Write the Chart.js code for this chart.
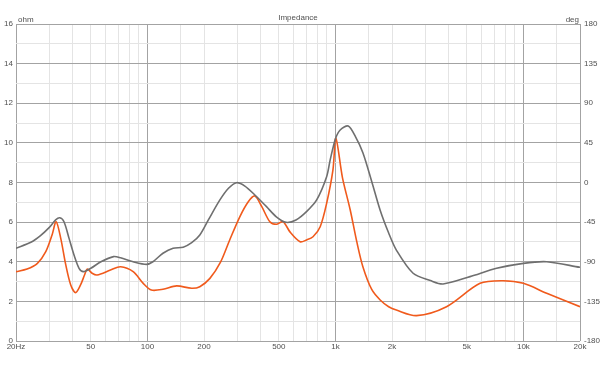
<!DOCTYPE html>
<html>
<head>
<meta charset="utf-8">
<script src="https://cdn.jsdelivr.net/npm/chart.js@4.4.1/dist/chart.umd.min.js"></script>
<style>
  html, body { margin: 0; background: #fff; }
  #wrap { width: 600px; height: 375px; }
</style>
</head>
<body>
<div id="wrap"><canvas id="impedance-chart"></canvas></div>
<script>
(function () {
    "use strict";

    // grey trace
    const grayFreq = [20, 24, 27, 30, 32.5, 34.2, 36, 38.3, 40.7, 43.3, 45.6, 50, 56.6, 66, 72, 84, 99, 107, 121, 137, 155, 172, 190, 211, 243, 270, 298, 330, 373, 430, 485, 546, 617, 702, 795, 898, 938, 1000, 1060, 1170, 1280, 1400, 1560, 1730, 1920, 2110, 2590, 3200, 3740, 5200, 7200, 10000, 13300, 20000];
    const grayOhm = [4.68, 4.98, 5.32, 5.72, 6.11, 6.22, 6.02, 5.18, 4.34, 3.67, 3.5, 3.67, 4.0, 4.26, 4.2, 4.0, 3.87, 4.0, 4.43, 4.68, 4.73, 4.96, 5.35, 6.11, 7.12, 7.71, 7.99, 7.82, 7.37, 6.78, 6.27, 5.99, 6.11, 6.53, 7.12, 8.29, 9.14, 10.2, 10.65, 10.85, 10.3, 9.5, 8.05, 6.6, 5.45, 4.59, 3.42, 3.05, 2.88, 3.25, 3.67, 3.92, 4.0, 3.72];

    // orange trace
    const orangeFreq = [20, 22.9, 26, 28.8, 31.1, 32.7, 34.6, 36.8, 39.1, 41.5, 44.1, 46.3, 47.9, 50.8, 54, 63.6, 72, 84, 95, 105, 121, 143, 172, 190, 215, 244, 274, 310, 344, 373, 406, 448, 485, 527, 572, 649, 702, 760, 830, 898, 970, 1006, 1090, 1200, 1300, 1400, 1560, 1730, 1920, 2110, 2700, 3900, 5880, 7800, 10000, 13300, 20000];
    const orangeOhm = [3.5, 3.63, 3.92, 4.51, 5.35, 6.02, 5.18, 3.84, 2.83, 2.44, 2.83, 3.33, 3.63, 3.42, 3.33, 3.58, 3.75, 3.5, 2.91, 2.57, 2.61, 2.78, 2.66, 2.74, 3.16, 3.95, 5.1, 6.27, 7.03, 7.32, 6.78, 6.02, 5.89, 6.02, 5.52, 5.01, 5.1, 5.26, 5.77, 6.95, 8.63, 10.23, 8.25, 6.6, 5.0, 3.75, 2.6, 2.07, 1.73, 1.56, 1.28, 1.73, 2.91, 3.04, 2.91, 2.41, 1.73];

    // x grid lines and the ones that get a label
    const freqGrid = [20, 30, 40, 50, 60, 70, 80, 90, 100, 150, 200, 300, 400, 500, 600, 700, 800, 900, 1000, 1500, 2000, 3000, 4000, 5000, 6000, 7000, 8000, 9000, 10000, 15000, 20000];
    const freqLabels = { 20: "20Hz", 50: "50", 100: "100", 200: "200", 500: "500", 1000: "1k", 2000: "2k", 5000: "5k", 10000: "10k", 20000: "20k" };
    const freqMajor = [20, 100, 1000, 10000, 20000];

    const DARK = "#a3a3a3";
    const LIGHT = "#e4e4e4";
    const TEXT = "#505050";
    const FONT = { family: "'Liberation Sans', Arial, sans-serif", size: 8 };

    const toPoints = (xs, ys) => xs.map((x, i) => ({ x: x, y: ys[i] }));

    const labelsPlugin = {
        id: "labels",
        afterDraw(chart) {
            const c = chart.ctx;
            const a = chart.chartArea;
            c.save();
            c.fillStyle = TEXT;
            c.font = "8px 'Liberation Sans', Arial, sans-serif";
            c.textBaseline = "alphabetic";
            c.textAlign = "center";
            c.fillText("Impedance", (a.left + a.right) / 2, a.top - 4);
            c.textAlign = "left";
            c.fillText("ohm", a.left + 2, a.top - 2);
            c.textAlign = "right";
            c.fillText("deg", a.right - 1, a.top - 2);
            c.restore();
        },
    };

    const ctx = document.getElementById("impedance-chart").getContext("2d");
    new Chart(ctx, {
        type: "line",
        data: {
            datasets: [
                {
                    label: "grey",
                    data: toPoints(grayFreq, grayOhm),
                    borderColor: "#6f6f6f",
                    borderWidth: 1.6,
                    pointRadius: 0,
                    tension: 0.3,
                    yAxisID: "y",
                },
                {
                    label: "orange",
                    data: toPoints(orangeFreq, orangeOhm),
                    borderColor: "#f05a1c",
                    borderWidth: 1.6,
                    pointRadius: 0,
                    tension: 0.3,
                    yAxisID: "y",
                },
            ],
        },
        options: {
            responsive: true,
            maintainAspectRatio: false,
            animation: false,
            layout: { padding: { top: 24, left: 0, right: 0, bottom: 0 } },
            plugins: {
                legend: { display: false },
                tooltip: { enabled: false },
            },
            scales: {
                x: {
                    type: "logarithmic",
                    min: 20,
                    max: 20000,
                    afterBuildTicks: (s) => { s.ticks = freqGrid.map((v) => ({ value: v })); },
                    afterFit: (s) => { s.height = 34; },
                    border: { display: false },
                    grid: {
                        drawTicks: false,
                        color: (c) => (c.tick && freqMajor.includes(c.tick.value) ? DARK : LIGHT),
                    },
                    ticks: {
                        autoSkip: false,
                        maxRotation: 0,
                        padding: 1,
                        color: TEXT,
                        font: FONT,
                        callback: (v) => freqLabels[v] || "",
                    },
                },
                y: {
                    position: "left",
                    min: 0,
                    max: 16,
                    afterFit: (s) => { s.width = 16; },
                    border: { display: false },
                    grid: {
                        drawTicks: false,
                        color: (c) => (c.tick && c.tick.value % 2 === 0 ? DARK : LIGHT),
                    },
                    ticks: {
                        stepSize: 0.5,
                        maxTicksLimit: 40,
                        padding: 3,
                        color: TEXT,
                        font: FONT,
                        callback: (v) => (v % 2 === 0 ? String(v) : ""),
                    },
                },
                y2: {
                    position: "right",
                    min: -180,
                    max: 180,
                    afterFit: (s) => { s.width = 20; },
                    border: { display: false },
                    grid: { drawOnChartArea: false, drawTicks: false },
                    ticks: {
                        stepSize: 45,
                        padding: 4,
                        color: TEXT,
                        font: FONT,
                    },
                },
            },
        },
        plugins: [labelsPlugin],
    });
})();
</script>
</body>
</html>
